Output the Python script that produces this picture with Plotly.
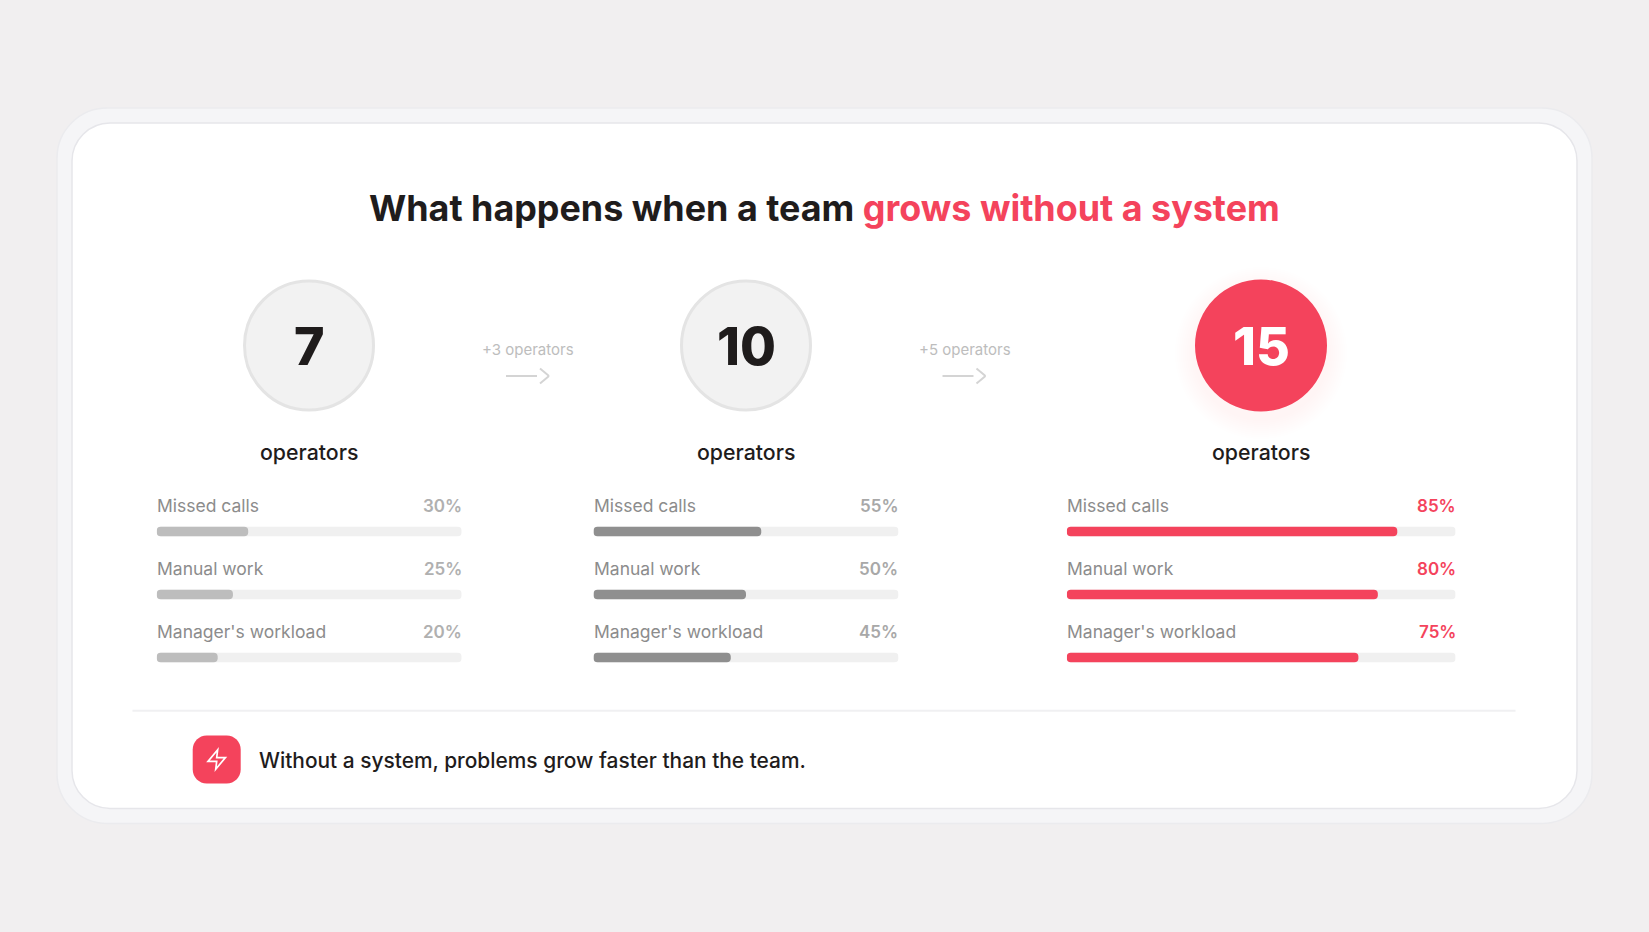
import plotly.graph_objects as go

W = 1649
H = 932

FONT = "Inter"
RED = "#f4435c"
DARK = "#1f1c1c"

# data
metrics = ["Missed calls", "Manual work", "Manager's workload"]
operators = [7, 10, 15]
added = ["+3 operators", "+5 operators"]
team_7 = [30, 25, 20]
team_10 = [55, 50, 45]
team_15 = [85, 80, 75]
track = [100, 100, 100]


def px(x):
    return x / W


def py(y):
    return 1 - y / H


def round_rect(x0, y0, x1, y1, r):
    # plotly does not take arcs in paper coords, so corners are beziers
    k = r * 0.45
    pts = [
        ("M", x0 + r, y0), ("L", x1 - r, y0),
        ("C", x1 - k, y0, x1, y0 + k, x1, y0 + r), ("L", x1, y1 - r),
        ("C", x1, y1 - k, x1 - k, y1, x1 - r, y1), ("L", x0 + r, y1),
        ("C", x0 + k, y1, x0, y1 - k, x0, y1 - r), ("L", x0, y0 + r),
        ("C", x0, y0 + k, x0 + k, y0, x0 + r, y0),
    ]
    out = ""
    for p in pts:
        nums = p[1:]
        coords = []
        for i in range(0, len(nums), 2):
            coords.append("%.5f,%.5f" % (px(nums[i]), py(nums[i + 1])))
        out += p[0] + " ".join(coords) + " "
    return out + "Z"


def box(x0, y0, x1, y1, r, fill, line, width=1.5):
    return dict(type="path", xref="paper", yref="paper", path=round_rect(x0, y0, x1, y1, r),
                fillcolor=fill, line=dict(color=line, width=width), layer="below")


def circle(cx, cy, r, fill, line=None, width=0, opacity=1):
    return dict(type="circle", xref="paper", yref="paper", x0=px(cx - r), x1=px(cx + r),
                y0=py(cy + r), y1=py(cy - r), fillcolor=fill, opacity=opacity,
                line=dict(color=line or fill, width=width), layer="below")


def seg(x0, y0, x1, y1, color, width):
    return dict(type="line", xref="paper", yref="paper", x0=px(x0), x1=px(x1), y0=py(y0), y1=py(y1),
                line=dict(color=color, width=width), layer="below")


def note(x, y, text, size, color, anchor="center", weight=400):
    return dict(xref="paper", yref="paper", x=px(x), y=py(y), text=text, showarrow=False,
                xanchor=anchor, yanchor="middle", align=anchor,
                font=dict(family=FONT, size=size, color=color, weight=weight))


shapes = []
notes = []

# cards
shapes.append(box(57, 108, 1592, 823.5, 50, "#f5f5f7", "#ebebee"))
shapes.append(box(72, 123, 1577, 808.5, 38, "#ffffff", "#e6e6ea"))

# title
notes.append(note(824, 208, "What happens when a team <span style='color:%s'>grows without a system</span>" % RED,
                  35.9, DARK, weight=700))

# columns: (left, right, circle centre, fill colour, value colour)
columns = [
    (156.7, 461.7, 309, "#bdbdbd", "#b0b0b0", team_7),
    (593.5, 898.5, 746, "#8f8f8f", "#a8a8a8", team_10),
    (1066.8, 1455.6, 1261, RED, RED, team_15),
]
row_y = [505.5, 568.5, 631.5]

fig = go.Figure()
layout_axes = {}
for i, (left, right, cx, fill, val_color, values) in enumerate(columns):
    suffix = "" if i == 0 else str(i + 1)
    xname = "x" + suffix
    yname = "y" + suffix
    # base makes plotly round all four corners, not only the far end
    fig.add_trace(go.Bar(y=metrics, x=track, base=0, orientation="h", width=0.148, xaxis=xname, yaxis=yname,
                         marker=dict(color="#f0f0f0", cornerradius=4.5, line_width=0), hoverinfo="skip"))
    fig.add_trace(go.Bar(y=metrics, x=values, base=0, orientation="h", width=0.148, xaxis=xname, yaxis=yname,
                         marker=dict(color=fill, cornerradius=4.5, line_width=0), name=str(operators[i])))
    layout_axes["xaxis" + suffix] = dict(domain=[px(left), px(right)], range=[0, 100], visible=False,
                                         anchor=yname, fixedrange=True)
    layout_axes["yaxis" + suffix] = dict(domain=[py(689), py(500)], range=[2.5, -0.5], visible=False,
                                         anchor=xname, type="category", categoryorder="array",
                                         categoryarray=metrics, fixedrange=True)

    # circle
    if i == 2:
        # soft shadow under the red one
        for r in range(86, 66, -2):
            shapes.append(circle(cx, 353, r, RED, opacity=0.009))
        shapes.append(circle(cx, 345.5, 66, fill))
        num_color = "#ffffff"
    else:
        shapes.append(circle(cx, 345.5, 64.5, "#f2f2f2", "#e4e4e4", 3))
        num_color = DARK
    notes.append(note(cx, 347, str(operators[i]), 52, num_color, weight=800))
    notes.append(note(cx, 452, "operators", 21.3, DARK, weight=500))

    for j, name in enumerate(metrics):
        notes.append(note(left - 2, row_y[j], name, 17.5, "#8c8c8c"))
        notes[-1]["xanchor"] = "left"
        notes.append(note(right + 2, row_y[j] + 0.5, "%d%%" % values[j], 17, val_color, weight=600))
        notes[-1]["xanchor"] = "right"

# arrows between the columns
for n, text in enumerate(added):
    off = 436.5 * n
    notes.append(note(528 + off, 349, text, 15, "#bdbdbd"))
    shapes.append(seg(506 + off, 376, 537 + off, 376, "#d4d4d4", 2))
    shapes.append(seg(540 + off, 368.5, 549 + off, 376, "#d4d4d4", 2))
    shapes.append(seg(549 + off, 376, 540 + off, 383.5, "#d4d4d4", 2))

# footer
shapes.append(seg(132.5, 710.7, 1515.5, 710.7, "#f0f0f2", 2))
shapes.append(box(192.7, 735.5, 240.7, 783.5, 14, RED, RED, 0))
bolt = [(13, 2), (3, 14), (12, 14), (11, 22), (21, 10), (12, 10), (13, 2)]
bolt_path = "M" + " L".join("%.5f,%.5f" % (px(216.7 + (a - 12) * 0.97), py(759.5 + (b - 12) * 0.97)) for a, b in bolt) + " Z"
fig.add_shape(type="path", xref="paper", yref="paper", path=bolt_path, line=dict(color="#ffffff", width=1.7))
notes.append(note(256.5, 760, "Without a system, problems grow faster than the team.", 20.9, DARK, weight=500))
notes[-1]["xanchor"] = "left"

for s in shapes:
    fig.add_shape(**s)

fig.update_layout(
    width=W,
    height=H,
    margin=dict(l=0, r=0, t=0, b=0),
    paper_bgcolor="#f1eff0",
    plot_bgcolor="rgba(0,0,0,0)",
    barmode="overlay",
    showlegend=False,
    annotations=notes,
    **layout_axes,
)

fig.write_html("out.html", config={"displayModeBar": False},
               post_script="document.body.style.margin='0';document.body.style.overflow='hidden';")
